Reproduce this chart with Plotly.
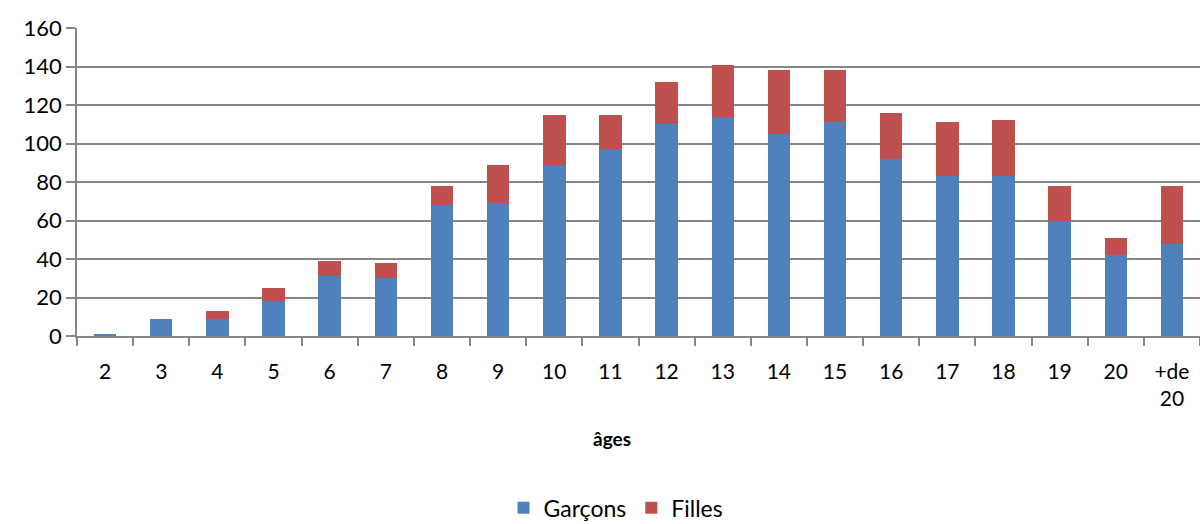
import plotly.graph_objects as go

ages = ["2", "3", "4", "5", "6", "7", "8", "9", "10", "11", "12", "13", "14", "15",
        "16", "17", "18", "19", "20", "+de<br>20"]
garcons = [1, 9, 9, 18, 31, 30, 68, 69, 89, 97, 110, 114, 105, 111, 92, 83, 83, 60, 42, 48]
filles = [0, 0, 4, 7, 8, 8, 10, 20, 26, 18, 22, 27, 33, 27, 24, 28, 29, 18, 9, 30]
y_ticks = [0, 20, 40, 60, 80, 100, 120, 140, 160]

FONT = "Lato, 'Open Sans', sans-serif"

fig = go.Figure()
fig.add_trace(go.Bar(x=ages, y=garcons, name="Garçons",
                     marker=dict(color="#4F81BD", line=dict(width=0))))
fig.add_trace(go.Bar(x=ages, y=filles, name="Filles",
                     marker=dict(color="#C0504D", line=dict(width=0))))

fig.update_layout(
    width=1200, height=524,
    barmode="stack", bargap=0.6,
    plot_bgcolor="white", paper_bgcolor="white",
    margin=dict(l=77, r=0, t=28, b=188, autoexpand=False),
    font=dict(family=FONT, color="black"),
    legend=dict(orientation="h", x=0.48, xanchor="center", y=-0.558, yanchor="middle",
                font=dict(size=23), itemwidth=30, traceorder="normal"),
    xaxis=dict(
        type="category", tickson="boundaries", ticks="outside", ticklen=8,
        tickcolor="#868686", tickwidth=1.5,
        showline=True, linecolor="#868686", linewidth=1.5,
        showgrid=False, tickfont=dict(size=21), ticklabelstandoff=16,
    ),
    yaxis=dict(
        range=[0, 160], tickvals=y_ticks, ticks="outside", ticklen=9,
        tickcolor="#868686", tickwidth=1.5,
        showline=True, linecolor="#868686", linewidth=1.5,
        showgrid=True, gridcolor="#868686", gridwidth=1.5,
        zeroline=False, tickfont=dict(size=22),
    ),
    annotations=[dict(text="<b>âges</b>", xref="paper", yref="paper",
                      x=0.476, y=-0.334, xanchor="center", yanchor="middle",
                      showarrow=False, font=dict(size=19))],
)

fig.write_html("out.html", config={"displayModeBar": False},
               post_script="document.body.style.margin='0px';")
